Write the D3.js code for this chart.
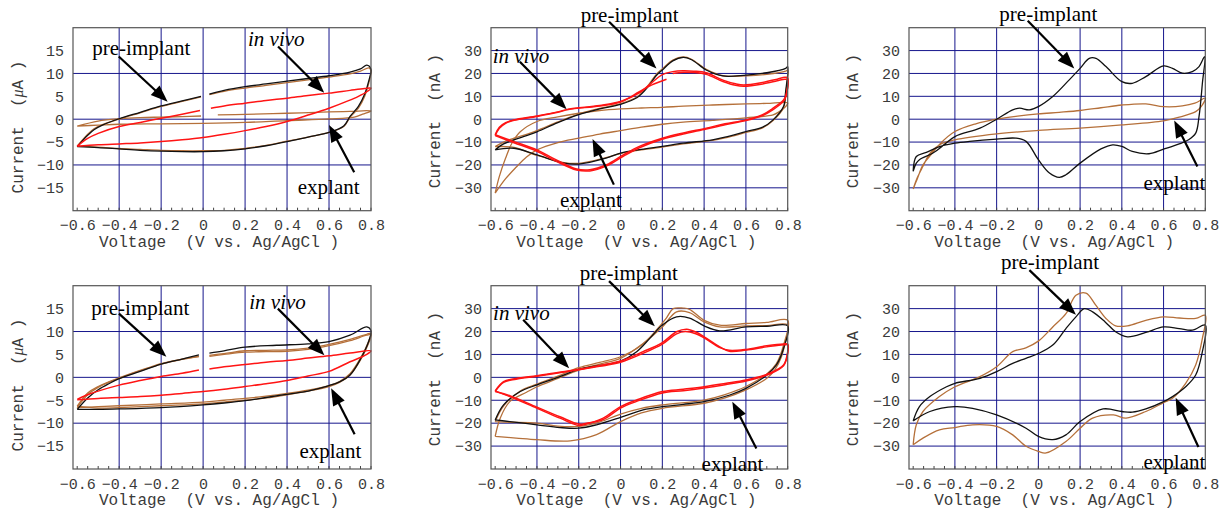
<!DOCTYPE html>
<html>
<head>
<meta charset="utf-8">
<script src="https://cdn.jsdelivr.net/npm/d3@7"></script>
<style>
  body { margin: 0; background: #fff; }
</style>
</head>
<body>
<script>
var svgWidth = 1223;
var svgHeight = 510;

// axis values
var voltTicks = [-0.6, -0.4, -0.2, 0, 0.2, 0.4, 0.6, 0.8];
var voltGrid = [-0.4, -0.2, 0, 0.2, 0.4, 0.6];
var microTicks = [-15, -10, -5, 0, 5, 10, 15];
var microGrid = [-10, 0, 10];
var nanoTicks = [-30, -20, -10, 0, 10, 20, 30];
var nanoGrid = [-30, -20, -10, 0, 10, 20, 30];

// traces as [V, I]; null marks a gap in the recording
// panel 1 (uA)
var p1Pre1 = [[-0.6,-6.0],[-0.55,-3.5],[-0.52,-2.3],[-0.48,-1.3],[-0.4,0.1],[-0.3,1.5],[-0.2,2.9],[-0.1,4.0],[-0.01,5.0],null,
  [0.03,5.5],[0.1,6.3],[0.2,7.1],[0.3,7.7],[0.4,8.3],[0.5,8.9],[0.6,9.5],[0.7,10.3],[0.75,11.0],[0.78,11.8],[0.8,10.9],
  [0.79,8.5],[0.77,5.5],[0.74,2.8],[0.7,0.6],[0.67,-1.5],[0.6,-2.9],[0.5,-3.9],[0.4,-4.9],[0.3,-5.8],[0.2,-6.5],[0.1,-6.9],
  [0,-7.1],[-0.1,-7.1],[-0.2,-7.0],[-0.3,-6.8],[-0.4,-6.5],[-0.5,-6.2],[-0.6,-6.0]];
var p1Pre2 = [[-0.6,-5.9],[-0.55,-3.3],[-0.52,-2.1],[-0.48,-1.2],[-0.4,0.0],[-0.3,1.4],[-0.2,2.8],[-0.1,3.9],[-0.01,4.9],null,
  [0.03,5.4],[0.1,6.1],[0.2,6.8],[0.3,7.4],[0.4,8.0],[0.5,8.6],[0.6,9.2],[0.7,9.9],[0.75,10.5],[0.79,11.2],[0.8,10.5],
  [0.79,8.0],[0.77,5.0],[0.74,2.4],[0.7,0.4],[0.67,-1.6],[0.6,-2.9],[0.5,-3.9],[0.4,-4.8],[0.3,-5.7],[0.2,-6.4],[0.1,-6.8],
  [0,-6.9],[-0.1,-6.9],[-0.2,-6.8],[-0.3,-6.6],[-0.4,-6.4],[-0.5,-6.1],[-0.6,-5.9]];
var p1Explant = [[-0.6,-1.5],[-0.5,-0.4],[-0.4,0.1],[-0.3,0.35],[-0.2,0.45],[-0.1,0.55],[-0.01,0.7],null,
  [0.07,0.95],[0.2,1.05],[0.4,1.3],[0.6,1.6],[0.7,1.7],[0.8,1.8],[0.76,1.1],[0.72,0.45],[0.6,0.05],[0.4,-0.3],
  [0.2,-0.7],[0,-0.9],[-0.2,-1.0],[-0.4,-1.1],[-0.5,-1.3],[-0.6,-1.5]];
var p1Vivo = [[-0.6,-5.9],[-0.55,-4.2],[-0.5,-3.1],[-0.4,-1.6],[-0.3,-0.7],[-0.2,0.2],[-0.1,1.1],[-0.015,1.9],null,
  [0.037,2.4],[0.1,2.9],[0.2,3.5],[0.3,4.1],[0.4,4.6],[0.5,5.2],[0.6,5.7],[0.7,6.3],[0.77,6.7],[0.8,6.8],
  [0.78,6.0],[0.74,5.0],[0.69,4.0],[0.6,2.4],[0.5,0.9],[0.4,-0.5],[0.3,-1.6],[0.2,-2.5],[0.1,-3.3],[0,-4.0],
  [-0.1,-4.5],[-0.2,-4.9],[-0.3,-5.2],[-0.4,-5.4],[-0.5,-5.6],[-0.6,-5.9]];

// panel 2 (nA)
var p2Pre1 = [[-0.6,-13.4],[-0.56,-10.8],[-0.51,-9.0],[-0.45,-7.2],[-0.4,-5.5],[-0.3,-1.5],[-0.2,2.0],[-0.1,4.5],[0,6.5],
  [0.08,9.5],[0.13,14.0],[0.17,19.0],[0.2,21.5],[0.25,25.5],[0.3,27.0],[0.34,26.0],[0.41,21.5],[0.49,18.9],[0.6,19.3],
  [0.7,20.3],[0.79,22.2],[0.8,23.0],
  [0.79,12.0],[0.78,5.5],[0.73,-0.3],[0.68,-3.5],[0.6,-5.4],[0.5,-7.8],[0.44,-9.0],[0.3,-10.5],[0.2,-11.9],[0.1,-13.2],
  [0,-14.8],[-0.07,-17.0],[-0.2,-19.6],[-0.27,-19.2],[-0.4,-15.6],[-0.51,-12.7],[-0.6,-13.4]];
var p2Pre2 = [[-0.6,-12.0],[-0.56,-10.0],[-0.51,-8.3],[-0.45,-6.6],[-0.4,-5.0],[-0.3,-1.2],[-0.2,2.2],[-0.1,4.7],[0,6.8],
  [0.08,9.8],[0.13,14.5],[0.17,19.5],[0.2,22.0],[0.25,25.8],[0.3,27.2],[0.34,26.2],[0.41,21.8],[0.49,19.0],[0.6,19.0],
  [0.7,19.6],[0.79,21.0],[0.8,21.5],
  [0.79,11.0],[0.78,5.0],[0.73,-0.6],[0.68,-3.8],[0.6,-5.8],[0.5,-8.2],[0.44,-9.3],[0.3,-10.8],[0.2,-12.2],[0.1,-13.4],
  [0,-15.0],[-0.07,-16.8],[-0.2,-19.3],[-0.27,-19.0],[-0.4,-15.8],[-0.51,-12.3],[-0.6,-12.0]];
var p2Explant = [[-0.6,-32.3],[-0.58,-25.0],[-0.55,-17.0],[-0.52,-10.5],[-0.48,-5.5],[-0.4,-1.0],[-0.3,1.0],[-0.2,2.6],
  [-0.1,3.8],[0,4.5],[0.1,4.9],[0.2,5.2],[0.3,5.7],[0.44,6.2],[0.6,6.7],[0.7,6.9],[0.8,7.1],
  [0.79,5.5],[0.76,3.3],[0.73,1.9],[0.6,0.6],[0.44,-0.5],[0.3,-1.3],[0.2,-2.2],[0.1,-3.5],[0,-5.0],[-0.1,-6.5],
  [-0.2,-8.3],[-0.3,-10.2],[-0.4,-13.4],[-0.45,-16.5],[-0.5,-21.0],[-0.55,-26.0],[-0.6,-32.3]];
var p2Vivo1 = [[-0.6,-6.8],[-0.58,-3.5],[-0.55,-1.5],[-0.51,-0.3],[-0.4,1.4],[-0.3,3.2],[-0.25,4.4],[-0.1,6.0],[0,7.7],
  [0.09,11.5],[0.15,16.0],[0.196,19.3],[0.25,20.8],[0.3,21.2],[0.35,21.0],[0.41,20.3],[0.49,17.1],[0.55,15.5],[0.59,15.0],
  [0.68,16.1],[0.75,17.5],[0.786,18.3],[0.8,18.0],
  [0.79,10.0],[0.78,8.4],[0.73,4.8],[0.68,2.0],[0.6,-0.3],[0.5,-2.0],[0.41,-3.9],[0.3,-6.0],[0.2,-8.3],[0.09,-11.9],
  [0.013,-15.6],[-0.067,-19.9],[-0.147,-22.1],[-0.21,-21.8],[-0.31,-17.7],[-0.4,-13.4],[-0.51,-9.8],[-0.6,-6.8]];
var p2Vivo2 = [[-0.6,-7.2],[-0.58,-4.0],[-0.55,-1.8],[-0.51,-0.5],[-0.4,1.2],[-0.3,3.0],[-0.25,4.2],[-0.1,5.8],[0,7.5],
  [0.09,12.0],[0.15,15.0],[0.22,17.5],null,[0.25,20.0],[0.3,20.5],[0.35,20.4],[0.41,19.6],[0.49,16.5],[0.55,14.8],
  [0.59,14.4],[0.68,15.4],[0.75,16.8],[0.786,17.5],[0.8,17.2],
  [0.79,9.5],[0.78,7.8],[0.73,4.2],[0.68,1.6],[0.6,-0.6],[0.5,-2.4],[0.41,-4.3],[0.3,-6.5],[0.2,-8.8],[0.09,-12.5],
  [0.013,-16.2],[-0.067,-20.4],[-0.147,-22.6],[-0.21,-22.2],[-0.31,-18.3],[-0.4,-14.0],[-0.51,-10.3],[-0.6,-7.2]];

// panel 3 (nA)
var p3Pre = [[-0.6,-22.8],[-0.585,-19.2],[-0.57,-17.7],[-0.505,-14.8],[-0.45,-11.0],[-0.4,-7.6],[-0.28,-3.9],[-0.2,0.0],
  [-0.123,4.1],[-0.09,4.8],[-0.043,4.1],[0,5.5],[0.069,9.9],[0.148,17.2],[0.2,22.2],[0.244,26.6],[0.276,26.6],
  [0.324,23.0],[0.4,16.4],[0.45,15.7],[0.515,18.6],[0.6,23.3],[0.643,22.2],[0.69,20.1],[0.738,20.8],[0.77,23.0],[0.797,27.3],
  [0.786,15.7],[0.77,1.2],[0.754,-6.1],[0.72,-9.0],[0.675,-10.8],[0.6,-13.1],[0.53,-15.1],[0.45,-14.1],[0.4,-11.9],
  [0.356,-11.2],[0.3,-13.0],[0.2,-19.2],[0.132,-24.3],[0.1,-25.4],[0.053,-23.5],[0,-17.7],[-0.059,-9.7],[-0.107,-8.3],
  [-0.2,-8.7],[-0.33,-9.7],[-0.4,-10.5],[-0.474,-12.0],[-0.537,-14.5],[-0.585,-16.3],[-0.6,-22.8]];
var p3Explant = [[-0.6,-30.5],[-0.58,-26.0],[-0.553,-20.0],[-0.51,-15.0],[-0.474,-11.0],[-0.4,-5.4],[-0.3,-2.0],[-0.2,0.0],
  [-0.1,1.3],[0,2.3],[0.1,3.0],[0.2,3.8],[0.3,5.0],[0.4,6.2],[0.515,6.7],[0.6,5.5],[0.69,5.8],[0.75,7.0],[0.8,9.2],
  [0.78,5.5],[0.754,3.3],[0.675,0.9],[0.6,-0.7],[0.4,-2.5],[0.2,-3.9],[0,-4.9],[-0.2,-6.4],[-0.4,-9.0],[-0.474,-11.2],
  [-0.52,-15.0],[-0.553,-20.6],[-0.58,-25.5],[-0.6,-30.5]];

// panel 4 (uA)
var p4Pre1 = [[-0.6,-7.0],[-0.55,-4.5],[-0.5,-2.7],[-0.45,-1.4],[-0.4,-0.3],[-0.3,1.3],[-0.2,2.9],[-0.1,4.0],[-0.02,4.9],null,
  [0.03,5.3],[0.1,5.8],[0.2,6.6],[0.35,7.0],[0.5,7.3],[0.6,7.8],[0.7,9.2],[0.78,11.0],[0.8,10.2],
  [0.79,8.0],[0.75,4.0],[0.7,0.5],[0.65,-1.0],[0.6,-1.8],[0.5,-3.0],[0.4,-3.7],[0.3,-4.4],[0.2,-5.1],[0.1,-5.6],[0,-6.0],
  [-0.2,-6.6],[-0.4,-6.9],[-0.5,-7.0],[-0.6,-7.0]];
var p4Pre2 = [[-0.6,-6.6],[-0.55,-3.8],[-0.5,-2.2],[-0.45,-1.1],[-0.4,-0.2],[-0.3,1.4],[-0.2,2.9],[-0.1,3.9],[-0.02,4.6],null,
  [0.03,4.8],[0.1,5.2],[0.2,5.8],[0.3,5.9],[0.4,6.0],[0.5,6.4],[0.6,7.2],[0.7,8.3],[0.78,9.4],[0.8,9.6],
  [0.79,8.0],[0.75,4.2],[0.7,0.8],[0.65,-0.9],[0.6,-1.8],[0.5,-2.8],[0.4,-3.5],[0.3,-4.1],[0.2,-4.6],[0.1,-5.0],[0,-5.4],
  [-0.2,-5.8],[-0.4,-6.2],[-0.5,-6.4],[-0.6,-6.6]];
var p4Pre3 = [[-0.6,-6.3],[-0.55,-3.4],[-0.5,-2.0],[-0.45,-1.0],[-0.4,-0.1],[-0.3,1.5],[-0.2,3.0],[-0.1,4.0],[-0.02,4.5],null,
  [0.03,4.6],[0.1,5.0],[0.2,5.5],[0.3,5.6],[0.4,5.7],[0.5,6.1],[0.6,6.9],[0.7,8.0],[0.78,9.2],[0.8,9.3],
  [0.79,7.6],[0.75,3.8],[0.7,0.5],[0.65,-1.1],[0.6,-2.0],[0.5,-3.0],[0.4,-3.8],[0.3,-4.5],[0.2,-5.0],[0.1,-5.4],[0,-5.8],
  [-0.2,-6.2],[-0.4,-6.6],[-0.5,-6.7],[-0.6,-6.3]];
var p4Vivo = [[-0.6,-4.8],[-0.55,-3.8],[-0.5,-3.0],[-0.4,-1.7],[-0.3,-0.7],[-0.2,0.2],[-0.1,0.9],[-0.02,1.6],null,
  [0.03,1.8],[0.1,2.3],[0.2,2.8],[0.3,3.3],[0.4,3.7],[0.5,4.2],[0.6,4.7],[0.7,5.3],[0.8,5.8],
  [0.78,5.0],[0.7,3.4],[0.6,1.3],[0.5,0.3],[0.4,-0.7],[0.3,-1.4],[0.2,-2.0],[0.1,-2.6],[0,-3.1],[-0.1,-3.5],
  [-0.2,-3.9],[-0.3,-4.2],[-0.4,-4.4],[-0.5,-4.6],[-0.6,-4.9]];

// panel 5 (nA)
var p5Pre1 = [[-0.6,-18.6],[-0.56,-12.0],[-0.48,-6.2],[-0.4,-3.3],[-0.3,0.0],[-0.2,3.5],[-0.1,5.2],[0,7.1],[0.077,11.2],
  [0.14,17.0],[0.2,22.8],[0.268,26.4],[0.33,25.9],[0.4,22.5],[0.475,20.3],[0.6,22.0],[0.7,22.3],[0.8,22.5],
  [0.78,12.6],[0.746,5.4],[0.7,1.0],[0.6,-4.8],[0.523,-7.7],[0.4,-10.6],[0.3,-11.8],[0.2,-12.8],[0.108,-14.2],[0,-17.5],
  [-0.115,-20.7],[-0.2,-22.2],[-0.29,-21.9],[-0.4,-20.7],[-0.53,-19.3],[-0.6,-18.6]];
var p5Pre2 = [[-0.6,-19.3],[-0.56,-12.5],[-0.48,-6.0],[-0.4,-3.0],[-0.3,0.5],[-0.2,4.2],[-0.1,6.5],[0,9.0],[0.1,14.0],
  [0.17,20.5],[0.22,26.0],[0.252,30.0],[0.3,30.2],[0.33,29.7],[0.4,24.9],[0.475,22.8],[0.6,23.5],[0.7,24.0],[0.8,24.9],
  [0.78,14.0],[0.746,6.0],[0.7,1.5],[0.6,-4.0],[0.5,-7.5],[0.4,-9.9],[0.2,-12.0],[0.1,-13.5],[0,-16.0],[-0.1,-19.5],
  [-0.2,-21.4],[-0.3,-21.3],[-0.4,-20.0],[-0.53,-19.6],[-0.6,-19.3]];
var p5Pre3 = [[-0.6,-25.8],[-0.576,-17.8],[-0.53,-10.6],[-0.45,-6.5],[-0.4,-4.1],[-0.3,-0.5],[-0.2,3.2],[-0.1,5.8],[0,8.3],
  [0.108,14.8],[0.2,22.0],[0.268,28.6],[0.33,28.3],[0.4,24.2],[0.475,22.0],[0.6,22.5],[0.7,22.6],[0.8,22.8],
  [0.79,16.0],[0.77,9.0],[0.74,3.5],[0.7,-0.4],[0.6,-5.5],[0.5,-9.0],[0.4,-11.3],[0.2,-13.5],[0.1,-15.5],[0,-19.3],
  [-0.115,-25.0],[-0.24,-27.7],[-0.4,-27.2],[-0.5,-26.5],[-0.6,-25.8]];
var p5Vivo1 = [[-0.6,-5.9],[-0.56,-1.9],[-0.5,-0.5],[-0.4,0.7],[-0.3,2.1],[-0.2,3.5],[-0.1,5.2],[0,7.1],[0.108,11.2],
  [0.2,15.2],[0.268,19.9],[0.317,21.0],[0.36,19.8],[0.4,17.7],[0.475,13.3],[0.52,11.4],[0.6,11.9],[0.7,13.3],[0.78,14.2],[0.8,14.1],
  [0.8,11.2],[0.78,5.4],[0.71,1.7],[0.6,-1.2],[0.5,-2.7],[0.4,-4.1],[0.3,-5.2],[0.2,-6.2],[0.077,-9.9],[0,-12.8],
  [-0.083,-17.8],[-0.163,-20.4],[-0.2,-21.0],[-0.29,-17.8],[-0.4,-13.5],[-0.53,-8.4],[-0.6,-5.9]];
var p5Vivo2 = [[-0.6,-6.2],[-0.56,-2.2],[-0.5,-0.8],[-0.4,0.5],[-0.3,1.9],[-0.2,3.3],[-0.1,4.8],[0,6.6],[0.108,10.5],
  [0.2,14.5],[0.268,19.0],[0.31,20.0],[0.36,19.0],[0.4,17.2],[0.475,13.0],[0.52,11.8],[0.6,12.2],[0.7,13.8],[0.78,14.6],[0.8,14.5],
  [0.8,10.5],[0.78,5.0],[0.71,1.3],[0.6,-1.6],[0.5,-3.2],[0.4,-4.6],[0.3,-5.8],[0.2,-6.8],[0.077,-10.5],[0,-13.4],
  [-0.083,-18.4],[-0.163,-20.0],[-0.2,-20.4],[-0.29,-17.2],[-0.4,-13.0],[-0.53,-8.0],[-0.6,-6.2]];

// panel 6 (nA)
var p6Pre1 = [[-0.6,-19.0],[-0.57,-12.8],[-0.52,-8.4],[-0.44,-4.1],[-0.4,-2.6],[-0.28,-0.4],[-0.2,2.5],[-0.123,6.1],
  [-0.06,8.3],[0,10.4],[0.069,14.1],[0.132,21.3],[0.18,26.4],[0.22,30.0],[0.26,28.6],[0.32,24.2],[0.37,19.9],[0.427,17.7],
  [0.515,19.6],[0.6,22.0],[0.675,21.3],[0.738,20.6],[0.8,22.8],
  [0.786,11.2],[0.754,1.0],[0.706,-4.1],[0.643,-8.4],[0.6,-10.6],[0.515,-13.8],[0.45,-15.2],[0.4,-14.9],[0.31,-13.8],
  [0.2,-19.3],[0.132,-25.1],[0.069,-27.2],[0,-25.8],[-0.059,-22.2],[-0.2,-16.4],[-0.315,-13.5],[-0.4,-12.8],
  [-0.52,-14.9],[-0.6,-19.0]];
var p6Pre2 = [[-0.6,-29.4],[-0.585,-20.7],[-0.553,-14.9],[-0.474,-8.4],[-0.4,-4.1],[-0.28,0.3],[-0.2,4.6],[-0.123,11.2],
  [-0.06,12.9],[0,15.8],[0.069,22.0],[0.132,27.8],[0.18,35.8],[0.228,36.8],[0.276,31.4],[0.324,25.7],[0.37,22.5],
  [0.427,22.5],[0.515,24.9],[0.6,26.4],[0.675,25.9],[0.754,25.7],[0.8,27.1],
  [0.786,17.0],[0.754,5.4],[0.706,-2.6],[0.643,-9.1],[0.6,-11.0],[0.515,-14.9],[0.42,-17.8],[0.36,-16.4],[0.26,-17.8],
  [0.2,-22.2],[0.132,-28.0],[0.037,-33.0],[0,-32.3],[-0.059,-30.1],[-0.123,-25.1],[-0.2,-21.4],[-0.315,-20.7],
  [-0.4,-21.9],[-0.474,-22.9],[-0.553,-26.5],[-0.6,-29.4]];

// annotations in data units: text start, arrow tail, arrow tip
var p1Notes = [
  { label: "pre-implant", at: [-0.528, 14.1], from: [-0.402, 13.7], to: [-0.169, 3.8] },
  { label: "in vivo", italic: true, at: [0.214, 16.0], from: [0.357, 15.9], to: [0.577, 5.8] },
  { label: "explant", at: [0.451, -16.3], from: [0.72, -11.6], to: [0.60, -1.25] }
];
var p2Notes = [
  { label: "pre-implant", at: [-0.191, 42.6], from: [-0.055, 42.6], to: [0.172, 22.2] },
  { label: "in vivo", italic: true, at: [-0.612, 24.7], from: [-0.482, 25.1], to: [-0.258, 4.3] },
  { label: "explant", at: [-0.29, -38.2], from: [-0.032, -28.6], to: [-0.134, -8.7] }
];
var p3Notes = [
  { label: "pre-implant", at: [-0.187, 42.9], from: [-0.051, 43.0], to: [0.172, 22.2] },
  { label: "explant", at: [0.504, -30.9], from: [0.762, -20.7], to: [0.651, -0.6] }
];
var p4Notes = [
  { label: "pre-implant", at: [-0.533, 13.7], from: [-0.401, 13.9], to: [-0.175, 4.5] },
  { label: "in vivo", italic: true, at: [0.22, 15.0], from: [0.356, 15.0], to: [0.578, 4.8] },
  { label: "explant", at: [0.459, -17.5], from: [0.722, -12.4], to: [0.61, -2.4] }
];
var p5Notes = [
  { label: "pre-implant", at: [-0.195, 42.7], from: [-0.055, 42.0], to: [0.164, 22.3] },
  { label: "in vivo", italic: true, at: [-0.61, 25.1], from: [-0.466, 25.1], to: [-0.246, 4.0] },
  { label: "explant", at: [0.388, -40.7], from: [0.650, -31.1], to: [0.535, -10.6] }
];
var p6Notes = [
  { label: "pre-implant", at: [-0.179, 47.4], from: [-0.043, 46.8], to: [0.180, 27.3] },
  { label: "explant", at: [0.504, -39.9], from: [0.767, -30.4], to: [0.658, -8.9] }
];

var black = "#111111", brown = "#b5703a", red = "#ff1414";

var panels = [
  { left: 73, right: 371, top: 27.7, bottom: 210.7, ymax: 20, ticks: microTicks, grid: microGrid, unit: "\u03bcA",
    labelX: 23, labelY: 127, notes: p1Notes,
    curves: [[p1Explant, brown], [p1Pre2, brown], [p1Pre1, black], [p1Vivo, red]] },
  { left: 491, right: 787.7, top: 27.7, bottom: 210.7, ymax: 40, ticks: nanoTicks, grid: nanoGrid, unit: "nA",
    labelX: 440, labelY: 121, notes: p2Notes,
    curves: [[p2Explant, brown], [p2Pre2, brown], [p2Pre1, black], [p2Vivo1, red], [p2Vivo2, red]] },
  { left: 909, right: 1205.3, top: 27.7, bottom: 210.7, ymax: 40, ticks: nanoTicks, grid: nanoGrid, unit: "nA",
    labelX: 858, labelY: 121, notes: p3Notes,
    curves: [[p3Explant, brown], [p3Pre, black]] },
  { left: 73, right: 371, top: 285.7, bottom: 469, ymax: 20, ticks: microTicks, grid: microGrid, unit: "\u03bcA",
    labelX: 23, labelY: 385, notes: p4Notes,
    curves: [[p4Pre2, brown], [p4Pre3, brown], [p4Pre1, black], [p4Vivo, red]] },
  { left: 491, right: 787.7, top: 285.7, bottom: 469, ymax: 40, ticks: nanoTicks, grid: nanoGrid, unit: "nA",
    labelX: 440, labelY: 379, notes: p5Notes,
    curves: [[p5Pre3, brown], [p5Pre2, brown], [p5Pre1, black], [p5Vivo1, red], [p5Vivo2, red]] },
  { left: 909, right: 1205.3, top: 285.7, bottom: 469, ymax: 40, ticks: nanoTicks, grid: nanoGrid, unit: "nA",
    labelX: 858, labelY: 379, notes: p6Notes,
    curves: [[p6Pre2, brown], [p6Pre1, black]] }
];

var svg = d3.select("body")
  .append("svg")
  .attr("width", svgWidth)
  .attr("height", svgHeight);

var mono = "'Liberation Mono', 'Courier New', monospace";
var serif = "'Liberation Serif', 'Times New Roman', serif";
var gridColor = "#16168c";
var labelColor = "#3a3a3a";

function arrow(g, x1, y1, x2, y2) {
  var dx = x2 - x1, dy = y2 - y1;
  var len = Math.sqrt(dx * dx + dy * dy);
  var ux = dx / len, uy = dy / len;
  var hl = 17, hw = 6.5;
  var bx = x2 - ux * hl, by = y2 - uy * hl;
  g.append("line")
    .attr("x1", x1).attr("y1", y1)
    .attr("x2", bx + ux * 3).attr("y2", by + uy * 3)
    .attr("stroke", "#000").attr("stroke-width", 2.2);
  g.append("path")
    .attr("d", "M" + x2 + "," + y2 +
      "L" + (bx - uy * hw) + "," + (by + ux * hw) +
      "L" + (bx + uy * hw) + "," + (by - ux * hw) + "Z")
    .attr("fill", "#000");
}

panels.forEach(function(p) {
  var x = d3.scaleLinear().domain([-0.62, 0.8]).range([p.left, p.right]);
  var y = d3.scaleLinear().domain([-p.ymax, p.ymax]).range([p.bottom, p.top]);
  var g = svg.append("g");

  // grid
  g.selectAll(".vgrid").data(voltGrid).enter().append("line")
    .attr("x1", d => x(d)).attr("x2", d => x(d))
    .attr("y1", p.top).attr("y2", p.bottom)
    .attr("stroke", gridColor).attr("stroke-width", 1);
  g.selectAll(".hgrid").data(p.grid).enter().append("line")
    .attr("x1", p.left).attr("x2", p.right)
    .attr("y1", d => y(d)).attr("y2", d => y(d))
    .attr("stroke", gridColor).attr("stroke-width", 1);

  // minor ticks along the bottom
  g.selectAll(".minor").data(d3.range(-0.6, 0.8001, 0.05)).enter().append("line")
    .attr("x1", d => x(d)).attr("x2", d => x(d))
    .attr("y1", p.bottom).attr("y2", p.bottom - 3)
    .attr("stroke", "#444").attr("stroke-width", 1);

  // traces
  var line = d3.line()
    .defined(d => d !== null)
    .x(d => x(d[0]))
    .y(d => y(d[1]))
    .curve(d3.curveCatmullRom.alpha(0.5));
  p.curves.forEach(function(c) {
    g.append("path")
      .attr("d", line(c[0]))
      .attr("fill", "none")
      .attr("stroke", c[1])
      .attr("stroke-width", c[1] === red ? 1.5 : 1.3)
      .attr("stroke-linejoin", "round");
  });

  // frame
  g.append("rect")
    .attr("x", p.left).attr("y", p.top)
    .attr("width", p.right - p.left).attr("height", p.bottom - p.top)
    .attr("fill", "none").attr("stroke", "#555").attr("stroke-width", 1.2);

  // axes
  var xAxis = d3.axisBottom(x)
    .tickValues(voltTicks)
    .tickSize(0).tickPadding(9)
    .tickFormat(d => d === 0 ? "0" : d3.format(".1f")(d));
  var xg = g.append("g")
    .attr("transform", "translate(0," + p.bottom + ")")
    .call(xAxis);
  var yAxis = d3.axisLeft(y)
    .tickValues(p.ticks)
    .tickSize(0).tickPadding(9)
    .tickFormat(d3.format("d"));
  var yg = g.append("g")
    .attr("transform", "translate(" + p.left + ",0)")
    .call(yAxis);
  [xg, yg].forEach(function(a) {
    a.select(".domain").remove();
    a.selectAll("text")
      .style("font-family", mono)
      .style("font-size", "15px")
      .attr("fill", labelColor);
  });

  g.append("text")
    .attr("x", (p.left + p.right) / 2 - 3)
    .attr("y", p.bottom + 36)
    .attr("text-anchor", "middle")
    .style("font-family", mono).style("font-size", "16px")
    .style("white-space", "pre")
    .attr("fill", labelColor)
    .text("Voltage  (V vs. Ag/AgCl )");

  var yl = g.append("text")
    .attr("transform", "translate(" + p.labelX + "," + p.labelY + ") rotate(-90)")
    .attr("text-anchor", "middle")
    .style("font-family", mono).style("font-size", "16px")
    .style("white-space", "pre")
    .attr("fill", labelColor);
  yl.append("tspan").text("Current  (");
  if (p.unit === "nA") {
    yl.append("tspan").text("nA )");
  } else {
    yl.append("tspan").style("font-style", "italic").style("font-family", serif).text("\u03bc");
    yl.append("tspan").text("A )");
  }

  // annotations
  p.notes.forEach(function(n) {
    arrow(g, x(n.from[0]), y(n.from[1]), x(n.to[0]), y(n.to[1]));
    g.append("text")
      .attr("x", x(n.at[0])).attr("y", y(n.at[1]))
      .style("font-family", serif).style("font-size", "21px")
      .style("font-style", n.italic ? "italic" : "normal")
      .attr("fill", "#000")
      .text(n.label);
  });
});
</script>
</body>
</html>
